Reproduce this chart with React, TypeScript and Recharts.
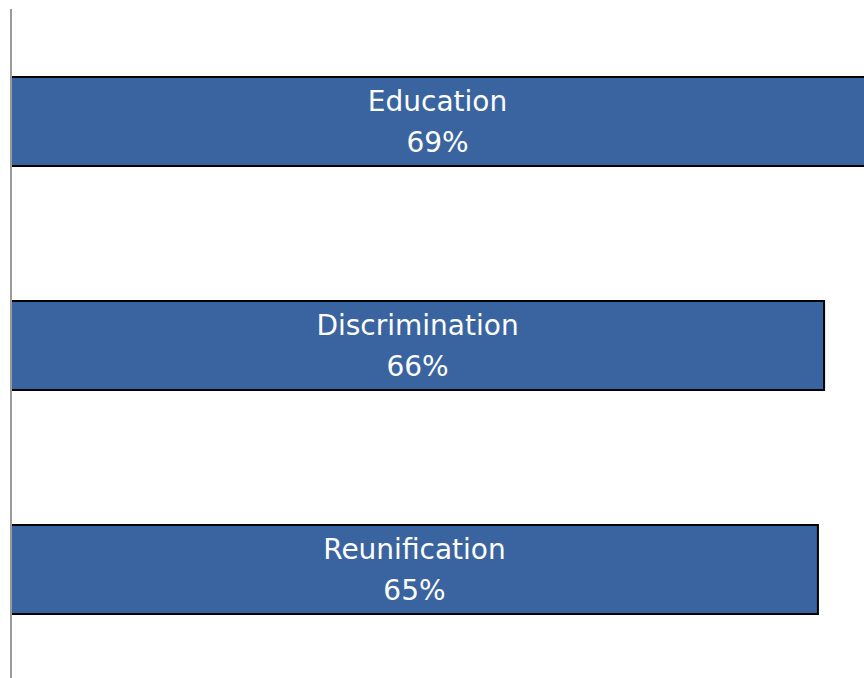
import { BarChart, Bar, XAxis, YAxis, LabelList, ReferenceLine } from "recharts";

const categories = ["Education", "Discrimination", "Reunification"];
const values = [69.4, 66, 65.5];
const shownLabels = ["69%", "66%", "65%"];

const data = categories.map((name, i) => ({ name, value: values[i], shown: shownLabels[i] }));

const renderLabel = (props: any) => {
  const { x, y, width, height, index } = props;
  const cx = x + Math.min(width, 853) / 2;
  const cy = y + height / 2;
  return (
    <text
      x={cx}
      y={cy}
      fill="#ffffff"
      textAnchor="middle"
      fontFamily="'DejaVu Sans', sans-serif"
      fontSize={28}
    >
      <tspan x={cx} dy={-11}>{categories[index]}</tspan>
      <tspan x={cx} dy={41}>{shownLabels[index]}</tspan>
    </text>
  );
};

export default function App() {
  return (
    <div style={{ position: "absolute", left: 0, top: 0, width: 864, height: 678, overflow: "hidden", background: "#fff" }}>
      <BarChart
        width={898}
        height={681}
        data={data}
        layout="vertical"
        margin={{ top: 9, right: 0, bottom: 0, left: 11 }}
      >
        <XAxis type="number" domain={[0, 72]} hide />
        <YAxis type="category" dataKey="name" hide />
        <Bar dataKey="value" barSize={89} fill="#3A64A0" stroke="#000" strokeWidth={2} isAnimationActive={false}>
          <LabelList dataKey="shown" content={renderLabel} />
        </Bar>
        <ReferenceLine x={0} stroke="#9a9a9a" strokeWidth={2} />
      </BarChart>
    </div>
  );
}
